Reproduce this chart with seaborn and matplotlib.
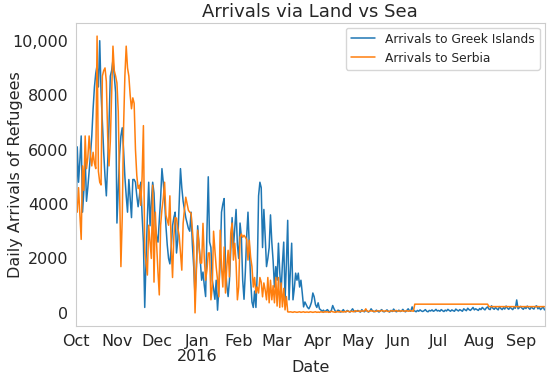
import pandas as pd
import matplotlib
matplotlib.use("Agg")
import matplotlib.pyplot as plt
import matplotlib.dates as mdates
from matplotlib.ticker import FuncFormatter, MultipleLocator
import seaborn as sns

# daily values, 2015-10-01 .. 2016-09-19
START_DATE = "2015-10-01"

greek_islands = (
    # Oct
    [2900, 6100, 4800, 5600, 6500, 3700, 4500, 5700, 4100, 4600, 5200, 5800, 6500, 7500, 8300, 8800,
     9100, 8300, 10000, 8100, 7000, 5900, 5000, 4300, 5500, 6900, 8700, 8900, 9300, 8700, 8100]
    # Nov
    + [3300, 4500, 5800, 6500, 6800, 6000, 5000, 4300, 3700, 4900, 4200, 3500, 4900, 4900, 4800,
       4300, 3900, 4300, 4800, 3600, 2600, 200, 2000, 3500, 4800, 3200, 4100, 4800, 4400, 3200]
    # Dec
    + [2800, 2600, 3400, 4200, 5300, 4800, 4200, 3200, 2500, 2000, 1800, 2400, 3200, 3500, 3700,
       2200, 2700, 4000, 5300, 4600, 4100, 3800, 3500, 3300, 3100, 3000, 3700, 2500, 1700, 600, 1700]
    # Jan
    + [3200, 2500, 1900, 1200, 1500, 1000, 600, 3000, 5000, 2600, 2400, 1200, 900, 500, 1200,
       100, 900, 1900, 3700, 4000, 4200, 1700, 1000, 600, 1200, 2400, 3500, 2400, 3100, 3800, 2500]
    # Feb
    + [2000, 3300, 2800, 1200, 500, 1500, 2800, 3700, 2500, 1200, 400, 200, 800, 200, 1500,
       4300, 4800, 4600, 2400, 3800, 2800, 1700, 2000, 2400, 3600, 2600, 1900, 950, 1700]
    # Mar
    + [1200, 2560, 1500, 730, 1800, 2600, 480, 1800, 3400, 480, 1500, 2560, 480, 900, 1460,
       1200, 1460, 950, 1200, 730, 220, 400, 300, 200, 150, 250, 400, 730, 590, 300, 200]
    # Apr
    + [370, 150, 110, 60, 100, 40, 80, 120, 60, 30, 90, 270, 150, 60, 40,
       100, 80, 30, 60, 120, 50, 40, 90, 60, 30, 80, 150, 70, 40, 60]
    # May
    + [90, 50, 30, 120, 60, 40, 100, 70, 30, 60, 150, 80, 40, 50, 100, 60,
       30, 80, 120, 50, 40, 70, 110, 60, 30, 90, 50, 140, 80, 40, 60]
    # Jun
    + [100, 50, 70, 130, 60, 40, 90, 150, 80, 60, 220, 100, 70, 40, 90,
       60, 110, 70, 50, 80, 120, 60, 40, 90, 70, 110, 60, 80, 130, 70]
    # Jul
    + [90, 60, 120, 80, 50, 100, 70, 130, 90, 60, 110, 80, 60, 140, 100, 70,
       120, 90, 60, 150, 110, 80, 170, 120, 90, 140, 200, 110, 150, 120, 90]
    # Aug
    + [160, 120, 200, 150, 110, 180, 220, 140, 120, 260, 170, 130, 200, 150, 110, 230,
       160, 120, 190, 140, 250, 170, 130, 210, 160, 120, 200, 170, 475, 150, 190]
    # Sep
    + [240, 170, 130, 210, 160, 250, 180, 130, 220, 170, 140, 230, 260, 150, 200, 120, 170, 230, 110]
)

serbia = (
    # Oct
    [3900, 3700, 4600, 3600, 2700, 5400, 4500, 6500, 5300, 5700, 6500, 5800, 5400, 5900, 5500, 5300,
     10170, 5200, 4800, 4700, 8700, 8900, 9000, 8500, 6500, 5400, 6300, 8000, 9800, 8900, 8700]
    # Nov
    + [8450, 7400, 4500, 1700, 3500, 6800, 8700, 9800, 9000, 8700, 8000, 7500, 7900, 7700, 6000,
       5050, 4570, 4690, 3950, 5000, 6880, 2230, 1800, 1390, 3220, 2600, 2000, 4690, 1130, 3700]
    # Dec
    + [2500, 1500, 660, 3220, 3800, 4200, 4800, 3590, 3400, 3220, 4300, 2500, 1300, 2800, 3500,
       3480, 3100, 2850, 2200, 1570, 3290, 3800, 4250, 4000, 3770, 3700, 3660, 3040, 2420, 0, 1500]
    # Jan
    + [3040, 2500, 1830, 1830, 3290, 2000, 1200, 1570, 2200, 2200, 480, 950, 3000, 2300, 1680,
       1200, 590, 3040, 1680, 950, 2420, 730, 1700, 2300, 1320, 2930, 3300, 1940, 2560, 1830, 480]
    # Feb
    + [950, 2780, 2900, 2780, 2850, 2780, 2700, 1940, 2670, 2050, 1700, 950, 1300, 730, 950,
       730, 1300, 1130, 590, 1100, 840, 480, 1300, 370, 1200, 480, 1000, 370, 1300]
    # Mar
    + [250, 1300, 200, 1100, 220, 900, 110, 600, 40, 30,
       40, 30, 20, 40, 30, 20, 30, 40, 20, 30, 40, 20, 30, 30, 20, 40, 30, 20, 30, 40, 20]
    # Apr
    + [30, 20, 40, 30, 20, 50, 30, 40, 20, 30, 60, 40, 30, 20, 50,
       40, 30, 60, 40, 30, 50, 40, 70, 50, 40, 60, 50, 40, 80, 60]
    # May
    + [60, 70, 50, 80, 60, 70, 150, 60, 50, 70, 80, 60, 70, 50, 60, 80,
       70, 60, 90, 70, 60, 80, 70, 50, 60, 70, 80, 60, 70, 90, 60]
    # Jun (weekly figure jumps on the 13th)
    + [70, 60, 80, 70, 60, 70, 80, 60, 70, 80, 70, 60] + [320] * 18
    # Jul
    + [320] * 31
    # Aug (drops on the 8th)
    + [320] * 7 + [230] * 24
    # Sep
    + [230] * 19
)

dates = pd.date_range(START_DATE, periods=len(greek_islands), freq="D")

sns.set_style("whitegrid")
plt.rcParams["font.family"] = ["DejaVu Sans"]

fig, ax = plt.subplots(figsize=(5.5, 3.79), dpi=100)
fig.subplots_adjust(left=0.138, right=0.99, top=0.94, bottom=0.14)

sns.lineplot(x=dates, y=greek_islands, ax=ax, color="#1f77b4", linewidth=1.1,
             label="Arrivals to Greek Islands")
sns.lineplot(x=dates[:len(serbia)], y=serbia, ax=ax, color="#ff7f0e", linewidth=1.1,
             label="Arrivals to Serbia")

ax.grid(False)
for sp in ax.spines.values():
    sp.set_color("#cccccc")

ax.set_xlim(dates[0], dates[-1])
ax.set_ylim(-480, 10660)

ax.xaxis.set_major_locator(mdates.MonthLocator())


def month_fmt(v, pos=None):
    d = mdates.num2date(v)
    lab = d.strftime("%b")
    if d.month == 1:
        lab += "\n" + str(d.year)
    return lab


ax.xaxis.set_major_formatter(FuncFormatter(month_fmt))
ax.yaxis.set_major_locator(MultipleLocator(2000))
ax.yaxis.set_major_formatter(FuncFormatter(lambda v, p: "10,000" if v == 10000 else f"{v:.0f}"))
ax.tick_params(axis="both", labelsize=11.5, pad=2)
for t in ax.get_xticklabels():
    t.set_linespacing(1.0)

ax.set_title("Arrivals via Land vs Sea", fontsize=13, pad=4)
ax.set_xlabel("Date", fontsize=11.5)
ax.set_ylabel("Daily Arrivals of Refugees", fontsize=11.5)
ax.xaxis.set_label_coords(0.5, -0.112)
ax.yaxis.set_label_coords(-0.112, 0.5)

ax.legend(loc="upper right", fontsize=8.8, frameon=True, borderaxespad=0.4)

fig.savefig("out.png", dpi=100)
